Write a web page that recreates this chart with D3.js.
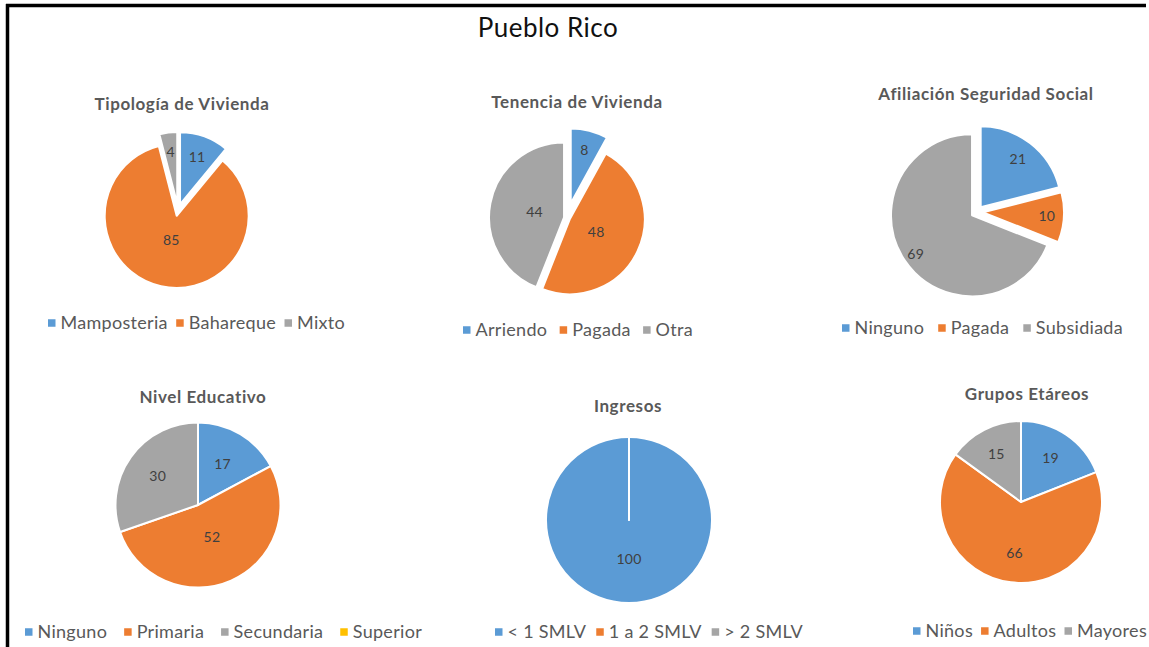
<!DOCTYPE html>
<html lang="es">
<head>
<meta charset="UTF-8">
<title>Pueblo Rico</title>
<script src="https://cdn.jsdelivr.net/npm/d3@7"></script>
<style>
  body { margin: 0; background: #fff; }
  text { font-family: 'Lato', 'Open Sans', sans-serif; }
  .main-title { font-size: 26px; fill: #111; letter-spacing: 0.5px; }
  .sub-title { font-size: 17px; font-weight: bold; fill: #595959; letter-spacing: 0.6px; }
  .slice-label { font-size: 14px; fill: #404040; letter-spacing: 0.3px; }
  .legend-text { font-size: 18px; fill: #595959; letter-spacing: 0.3px; }
</style>
</head>
<body>
<script>
// ---- data ----
var tipologiaCats = ["Mamposteria", "Bahareque", "Mixto"];
var tipologiaVals = [11, 85, 4];

var tenenciaCats = ["Arriendo", "Pagada", "Otra"];
var tenenciaVals = [8, 48, 44];

var afiliacionCats = ["Ninguno", "Pagada", "Subsidiada"];
var afiliacionVals = [21, 10, 69];

var educativoCats = ["Ninguno", "Primaria", "Secundaria", "Superior"];
var educativoVals = [17, 52, 30, 0];

var ingresosCats = ["< 1 SMLV", "1 a 2 SMLV", "> 2 SMLV"];
var ingresosVals = [100, 0, 0];

var gruposCats = ["Niños", "Adultos", "Mayores"];
var gruposVals = [19, 66, 15];

var colors = ["#5B9BD5", "#ED7D31", "#A5A5A5", "#FFC000"];

// ---- layout ----
var width = 1149, height = 647;

var charts = [
  { title: "Tipología de Vivienda", cats: tipologiaCats, vals: tipologiaVals,
    cx: 178, cy: 210, r: 72, explode: [6, 6, 6], labelR: [0.7, 0.34, 0.73],
    titleX: 182, titleY: 110, legX0: 48, legX1: 345, legY: 323 },
  { title: "Tenencia de Vivienda", cats: tenenciaCats, vals: tenenciaVals,
    cx: 567, cy: 218, r: 75, explode: [15, 3, 3], labelR: [0.74, 0.39, 0.4],
    titleX: 577, titleY: 108, legX0: 463, legX1: 693, legY: 330 },
  { title: "Afiliación Seguridad Social", cats: afiliacionCats, vals: afiliacionVals,
    cx: 977, cy: 212, r: 81, explode: [6, 6, 6], labelR: [0.75, 0.79, 0.84],
    titleX: 986, titleY: 100, legX0: 842, legX1: 1123, legY: 328 },
  { title: "Nivel Educativo", cats: educativoCats, vals: educativoVals,
    cx: 198, cy: 505, r: 82.5, explode: [0, 0, 0, 0], labelR: [0.58, 0.42, 0.6, 0.6],
    titleX: 203, titleY: 403, legX0: 25, legX1: 422, legY: 632 },
  { title: "Ingresos", cats: ingresosCats, vals: ingresosVals,
    cx: 629, cy: 520, r: 83, explode: [0, 0, 0], labelR: [0.47, 0.5, 0.5],
    titleX: 628, titleY: 412, legX0: 495, legX1: 803, legY: 632 },
  { title: "Grupos Etáreos", cats: gruposCats, vals: gruposVals,
    cx: 1021, cy: 502, r: 81, explode: [0, 0, 0], labelR: [0.65, 0.63, 0.67],
    titleX: 1027, titleY: 400, legX0: 913, legX1: 1147, legY: 631 }
];

var svg = d3.select("body").append("svg").attr("width", width).attr("height", height);

// frame (only the top and left edges are visible)
svg.append("line").attr("x1", 6).attr("y1", 5.5).attr("x2", 1146).attr("y2", 5.5)
   .attr("stroke", "#000").attr("stroke-width", 3.5);
svg.append("line").attr("x1", 7.5).attr("y1", 4).attr("x2", 7.5).attr("y2", height)
   .attr("stroke", "#000").attr("stroke-width", 3.5);

svg.append("text").attr("class", "main-title")
   .attr("x", 548).attr("y", 37).attr("text-anchor", "middle").text("Pueblo Rico");

var pie = d3.pie().sort(null).value(function(d) { return d; });

charts.forEach(function(c) {
  var g = svg.append("g").attr("transform", "translate(" + c.cx + "," + c.cy + ")");
  var arc = d3.arc().innerRadius(0).outerRadius(c.r);
  var arcs = pie(c.vals);

  function offset(a, i) {
    var mid = (a.startAngle + a.endAngle) / 2;
    var e = c.explode[i] || 0;
    return [e * Math.sin(mid), -e * Math.cos(mid)];
  }

  var slices = g.selectAll("g.slice").data(arcs).enter().append("g")
      .attr("class", "slice")
      .attr("transform", function(a, i) { var o = offset(a, i); return "translate(" + o[0] + "," + o[1] + ")"; });

  slices.append("path")
      .attr("d", arc)
      .attr("fill", function(a, i) { return colors[i]; })
      .attr("stroke", "#fff")
      .attr("stroke-width", 2)
      .attr("stroke-linejoin", "round");

  slices.filter(function(a) { return a.data > 0; }).append("text")
      .attr("class", "slice-label")
      .attr("text-anchor", "middle")
      .attr("dy", "0.35em")
      .attr("transform", function(a) {
        var i = arcs.indexOf(a);
        var mid = (a.startAngle + a.endAngle) / 2;
        var rr = c.r * c.labelR[i];
        return "translate(" + (rr * Math.sin(mid)) + "," + (-rr * Math.cos(mid)) + ")";
      })
      .text(function(a) { return a.data; });

  svg.append("text").attr("class", "sub-title")
     .attr("x", c.titleX).attr("y", c.titleY).attr("text-anchor", "middle").text(c.title);

  // legend: spread the items over the measured span
  var sq = 7.5, pad = 5;
  var leg = svg.append("g");
  var items = leg.selectAll("g").data(c.cats).enter().append("g");
  items.append("rect").attr("width", sq).attr("height", sq)
       .attr("y", c.legY - sq / 2)
       .attr("fill", function(d, i) { return colors[i]; });
  items.append("text").attr("class", "legend-text")
       .attr("y", c.legY).attr("dy", "0.36em").text(function(d) { return d; });

  var widths = [];
  items.select("text").each(function() { widths.push(this.getComputedTextLength()); });
  var used = d3.sum(widths) + c.cats.length * (sq + pad);
  var gap = (c.legX1 - c.legX0 - used) / (c.cats.length - 1);
  var x = c.legX0;
  items.each(function(d, i) {
    var it = d3.select(this);
    it.select("rect").attr("x", x);
    it.select("text").attr("x", x + sq + pad);
    x += sq + pad + widths[i] + gap;
  });
});
</script>
</body>
</html>
